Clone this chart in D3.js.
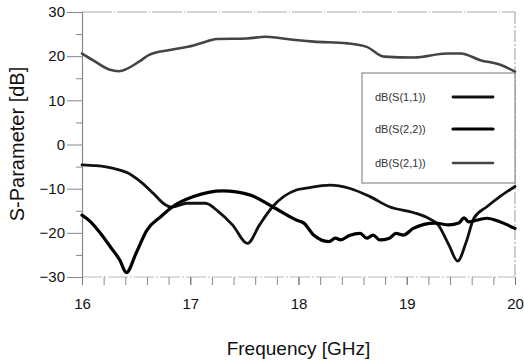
<!DOCTYPE html>
<html><head><meta charset="utf-8">
<script src="https://cdn.jsdelivr.net/npm/d3@7"></script>
<style>html,body{margin:0;padding:0;background:#fff;}svg{display:block;}</style>
</head><body>
<script>
// ---- data ----
const xTicks = [16, 17, 18, 19, 20];
const yTicks = [30, 20, 10, 0, -10, -20, -30];
const seriesNames = ["dB(S(1,1))", "dB(S(2,2))", "dB(S(2,1))"];

const fS11 = [16.0,16.13,16.29,16.42,16.54,16.66,16.75,16.83,16.97,17.14,17.26,17.39,17.53,17.64,17.76,17.98,18.07,18.29,18.47,18.66,18.84,19.06,19.2,19.29,19.39,19.47,19.55,19.62,19.74,19.86,20.0];
const vS11 = [-4.6,-4.8,-5.4,-6.4,-8.4,-11.1,-13.3,-14.2,-13.3,-13.3,-15.2,-18.2,-22.4,-18.2,-14.1,-10.3,-9.9,-9.2,-9.9,-11.8,-14.1,-15.4,-16.7,-18.2,-22.8,-26.4,-22.0,-16.7,-14.1,-11.8,-9.5];

const fS22 = [16.0,16.08,16.17,16.26,16.35,16.41,16.5,16.6,16.73,16.83,17.03,17.3,17.55,17.76,17.98,18.05,18.14,18.28,18.34,18.39,18.47,18.57,18.63,18.69,18.75,18.84,18.9,18.97,19.06,19.26,19.39,19.48,19.53,19.57,19.74,19.86,20.0];
const vS22 = [-16,-17.5,-20.1,-23.1,-26.2,-29.0,-24.6,-19.4,-16.3,-14.2,-11.8,-10.5,-11.4,-14.1,-17.1,-17.8,-20.5,-22.0,-21.2,-21.6,-20.6,-20.1,-21.2,-20.5,-21.6,-21.2,-20.1,-20.5,-19.0,-17.8,-18.2,-17.8,-16.6,-17.5,-16.7,-17.5,-19.0];

const fS21 = [16.0,16.1,16.25,16.34,16.53,16.62,16.81,17.03,17.15,17.24,17.52,17.7,17.95,18.14,18.45,18.63,18.79,19.07,19.37,19.5,19.68,19.87,20.0];
const vS21 = [20.6,19.1,17.0,16.6,18.8,20.3,21.4,22.4,23.3,23.9,24.0,24.4,23.7,23.3,22.9,22.1,19.9,19.7,20.6,20.6,19.1,18.0,16.5];

// ---- layout ----
const W = 524, H = 363;
const m = {left: 82, right: 9, top: 12, bottom: 86};
const svg = d3.select("body").append("svg").attr("width", W).attr("height", H);
const font = "Liberation Sans, Arial, sans-serif";

const x = d3.scaleLinear().domain([16, 20]).range([m.left, W - m.right]);
const y = d3.scaleLinear().domain([-30, 30]).range([H - m.bottom, m.top]);

// frame
svg.append("line").attr("x1", x(16)).attr("x2", x(20)).attr("y1", y(30)).attr("y2", y(30))
  .attr("stroke", "#aaa").attr("stroke-width", 1).attr("stroke-dasharray", "30,2,1,2");
svg.append("line").attr("x1", x(20)).attr("x2", x(20)).attr("y1", y(30)).attr("y2", y(-30))
  .attr("stroke", "#999").attr("stroke-width", 1).attr("stroke-dasharray", "12,2,2,2");
svg.append("line").attr("x1", x(16)).attr("x2", x(20)).attr("y1", y(-30)).attr("y2", y(-30))
  .attr("stroke", "#bbb").attr("stroke-width", 1).attr("stroke-dasharray", "20,2,2,2");

// y axis
const yAxis = d3.axisLeft(y).tickValues(yTicks).tickSize(15).tickPadding(2).tickFormat(d3.format("d"));
const gy = svg.append("g").attr("transform", `translate(${m.left},0)`).call(yAxis);
gy.select(".domain").attr("stroke", "#888").attr("stroke-width", 1.2);
gy.selectAll(".tick line").attr("stroke", "#888");
gy.selectAll(".tick text").attr("font-family", font).attr("font-size", 15).attr("fill", "#111");
const yMinor = d3.axisLeft(y).tickValues(d3.range(-25, 30, 10)).tickSize(6).tickFormat("");
const gym = svg.append("g").attr("transform", `translate(${m.left},0)`).call(yMinor);
gym.select(".domain").remove();
gym.selectAll(".tick line").attr("stroke", "#888");

// x axis
const xMinor = d3.axisBottom(x).tickValues(d3.range(0, 21).map(i => 16 + i * 0.2)).tickSize(8).tickFormat("");
const gxm = svg.append("g").attr("transform", `translate(0,${H - m.bottom})`).call(xMinor);
gxm.select(".domain").remove();
gxm.selectAll(".tick line").attr("stroke", "#888");
const xAxis = d3.axisBottom(x).tickValues(xTicks).tickSize(8).tickPadding(13).tickFormat(d3.format("d"));
const gx = svg.append("g").attr("transform", `translate(0,${H - m.bottom})`).call(xAxis);
gx.select(".domain").remove();
gx.selectAll(".tick line").attr("stroke", "#777");
gx.selectAll(".tick text").attr("font-family", font).attr("font-size", 15).attr("fill", "#111");

// axis titles
svg.append("text").attr("x", (x(16) + x(20)) / 2).attr("y", 355)
  .attr("text-anchor", "middle").attr("font-family", font).attr("font-size", 19).attr("fill", "#111")
  .text("Frequency [GHz]");
svg.append("text").attr("transform", `translate(24,${144}) rotate(-90)`)
  .attr("text-anchor", "middle").attr("font-family", font).attr("font-size", 20).attr("fill", "#111")
  .text("S-Parameter [dB]");

// curves
const line = d3.line().x(d => x(d[0])).y(d => y(d[1])).curve(d3.curveMonotoneX);
const series = [
  {f: fS11, v: vS11, color: "#111", w: 2.8},
  {f: fS22, v: vS22, color: "#000", w: 3.2},
  {f: fS21, v: vS21, color: "#444", w: 2.6}
];
series.forEach(s => {
  svg.append("path").datum(s.f.map((f, i) => [f, s.v[i]]))
    .attr("d", line).attr("fill", "none").attr("stroke", s.color)
    .attr("stroke-width", s.w).attr("stroke-linejoin", "round").attr("stroke-linecap", "round");
});

// legend
const lg = svg.append("g");
lg.append("rect").attr("x", 362).attr("y", 73).attr("width", 153).attr("height", 110)
  .attr("fill", "#fff").attr("stroke", "#777").attr("stroke-width", 1);
const legY = [97, 129, 163];
series.forEach((s, i) => {
  lg.append("text").attr("x", 375).attr("y", legY[i] + 4).attr("font-family", font)
    .attr("font-size", 11).attr("fill", "#333").text(seriesNames[i]);
  lg.append("line").attr("x1", 453).attr("x2", 493).attr("y1", legY[i]).attr("y2", legY[i])
    .attr("stroke", s.color).attr("stroke-width", s.w).attr("stroke-linecap", "round");
});
</script>
</body></html>
